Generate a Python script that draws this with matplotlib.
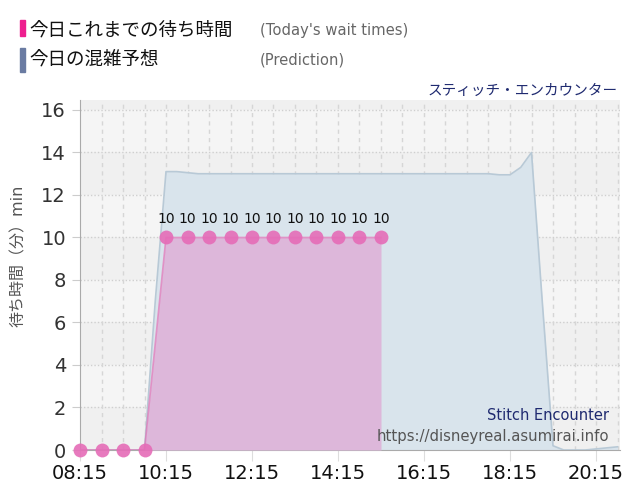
import matplotlib
matplotlib.use("Agg")
import matplotlib.pyplot as plt
from matplotlib.patches import Rectangle

plt.rcParams['font.family'] = ['DejaVu Sans', 'Noto Sans CJK JP']

# ---- data ----
actual_times = [8.25, 8.75, 9.25, 9.75, 10.25, 10.75, 11.25, 11.75, 12.25, 12.75,
                13.25, 13.75, 14.25, 14.75, 15.25]
actual_values = [0, 0, 0, 0, 10, 10, 10, 10, 10, 10, 10, 10, 10, 10, 10]

pred_times = [8.25 + 0.25 * i for i in range(51)]  # 08:15 .. 20:45 every 15 min
pred_values = [0, 0, 0, 0, 0, 0, 0,          # 08:15 - 09:45
               7.0, 13.1, 13.1, 13.05,        # 10:00 - 10:45
               13.0, 13.0, 13.0, 13.0,        # 11:00 - 11:45
               13.0, 13.0, 13.0, 13.0,        # 12:00 - 12:45
               13.0, 13.0, 13.0, 13.0,        # 13:00 - 13:45
               13.0, 13.0, 13.0, 13.0,        # 14:00 - 14:45
               13.0, 13.0, 13.0, 13.0,        # 15:00 - 15:45
               13.0, 13.0, 13.0, 13.0,        # 16:00 - 16:45
               13.0, 13.0, 13.0, 13.0,        # 17:00 - 17:45
               12.95, 12.95, 13.3, 14.0,      # 18:00 - 18:45
               7.0, 0.2, 0, 0,                # 19:00 - 19:45
               0, 0.05, 0.1, 0.15]            # 20:00 - 20:45

xtick_pos = [8.25, 10.25, 12.25, 14.25, 16.25, 18.25, 20.25]
xtick_labels = ['08:15', '10:15', '12:15', '14:15', '16:15', '18:15', '20:15']
yticks = [0, 2, 4, 6, 8, 10, 12, 14, 16]

W, H = 640, 500
fig = plt.figure(figsize=(W / 100, H / 100), dpi=100)
ax = fig.add_axes([80 / W, 50 / H, 540 / W, 350 / H])

ax.set_xlim(8.25, 8.25 + 540 / 43)
ax.set_ylim(0, 16.47)
ax.set_facecolor('#f5f5f5')

# alternating bands
for lo in [0, 4, 8, 12, 16]:
    ax.axhspan(lo, lo + 2, color='#f0f0f0', lw=0, zorder=0)

# grid
for y in yticks[1:]:
    ax.axhline(y, color='#cfcfcf', lw=1, ls=(0, (1, 1.5)), zorder=1)
t = 8.75
while t < 20.9:
    ax.axvline(t, color='#d6d6d6', lw=1, ls=(0, (3, 3)), zorder=1)
    t += 0.5

# prediction
ax.fill_between(pred_times, pred_values, 0, color='#d9e4ec', lw=0, zorder=2)
ax.plot(pred_times, pred_values, color='#b8c9d6', lw=1.2, zorder=3)

# actual
ax.fill_between(actual_times, actual_values, 0, color='#ddb7da', lw=0, zorder=4)
ax.plot(actual_times, actual_values, color='#e55fae', lw=1.2, alpha=0.6, zorder=5)
ax.plot(actual_times, actual_values, 'o', color='#e56cb7', ms=10, alpha=0.9,
        mec='none', zorder=6, clip_on=False)
for x, v in zip(actual_times, actual_values):
    if v > 0:
        ax.annotate(str(v), (x, v), xytext=(0, 13), textcoords='offset points',
                    ha='center', va='center', fontsize=10, color='#111111', zorder=7)

# axes styling
for s in ['top', 'right']:
    ax.spines[s].set_visible(False)
ax.spines['left'].set_color('#aaaaaa')
ax.spines['bottom'].set_color('#aaaaaa')
ax.set_xticks(xtick_pos)
ax.set_xticklabels(xtick_labels, fontsize=14, color='#111111')
ax.set_yticks(yticks)
ax.set_yticklabels([str(v) for v in yticks], fontsize=14, color='#333333')
ax.tick_params(axis='x', length=8, color='#dddddd', pad=2)
ax.tick_params(axis='y', length=6, color='#cccccc', pad=4)

fig.text(18 / W, 1 - 256 / H, '待ち時間（分）min', rotation=90, ha='center', va='center',
         fontsize=11.5, color='#555555')

# legend at top
fig.patches.append(Rectangle((20 / W, 1 - 36 / H), 5 / W, 16 / H, transform=fig.transFigure,
                             color='#ee1f8f'))
fig.patches.append(Rectangle((20 / W, 1 - 72 / H), 5 / W, 24 / H, transform=fig.transFigure,
                             color='#6a7ba2'))
fig.text(29 / W, 1 - 31 / H, '今日これまでの待ち時間', ha='left', va='center', fontsize=13.3,
         color='#111111')
fig.text(29 / W, 1 - 60 / H, '今日の混雑予想', ha='left', va='center', fontsize=13.3,
         color='#111111')
fig.text(260 / W, 1 - 31 / H, "(Today's wait times)", ha='left', va='center', fontsize=10.6,
         color='#666666')
fig.text(260 / W, 1 - 60 / H, '(Prediction)', ha='left', va='center', fontsize=10.6,
         color='#666666')

fig.text(618 / W, 1 - 90 / H, 'スティッチ・エンカウンター', ha='right', va='center',
         fontsize=10.5, color='#1f2a70')
fig.text(609 / W, 1 - 415 / H, 'Stitch Encounter', ha='right', va='center',
         fontsize=10.5, color='#1f2a70')
fig.text(609 / W, 1 - 436 / H, 'https://disneyreal.asumirai.info', ha='right', va='center',
         fontsize=10.7, color='#555555')

fig.savefig('out.png', dpi=100)
